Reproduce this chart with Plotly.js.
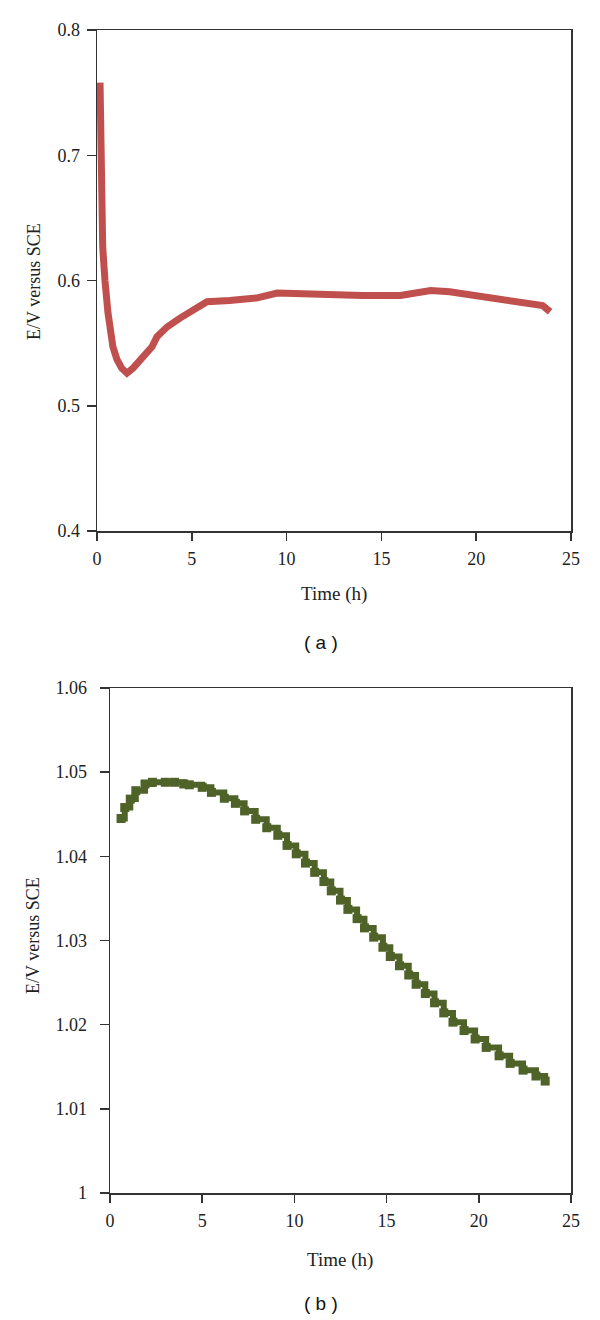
<!DOCTYPE html>
<html>
<head>
<meta charset="utf-8">
<script src="https://cdn.plot.ly/plotly-3.0.1.min.js"></script>
<style>
  body { margin: 0; background: #fff; }
  #plot { width: 600px; height: 1320px; }
</style>
</head>
<body>
<div id="plot"></div>
<script>
// (a) potential vs time, red curve
var timeA = [0.16, 0.2, 0.3, 0.42, 0.58, 0.84, 1.05, 1.3, 1.58, 1.9, 2.37, 2.9, 3.16, 3.7, 4.38, 5.27, 5.8, 7.0, 8.1, 8.4, 9.5, 11, 12.5, 14, 16, 16.8, 17.6, 18.6, 19.5, 20.4, 21.3, 22.2, 23, 23.5, 23.9];
var potA  = [0.758, 0.699, 0.627, 0.600, 0.574, 0.547, 0.537, 0.530, 0.526, 0.530, 0.539, 0.547, 0.555, 0.563, 0.570, 0.579, 0.583, 0.584, 0.585, 0.586, 0.590, 0.589, 0.588, 0.588, 0.588, 0.590, 0.592, 0.591, 0.589, 0.587, 0.585, 0.584, 0.582, 0.580, 0.575];

// (b) potential vs time, green steps
var timeB = [0.6, 0.8, 1.1, 1.4, 1.9, 2.3, 3.0, 3.5, 4.0, 4.3, 5.0, 5.5, 6.2, 6.8, 7.3, 7.9, 8.5, 9.1, 9.6, 10.1, 10.6, 11.1, 11.6, 12.0, 12.5, 12.9, 13.4, 13.8, 14.3, 14.8, 15.2, 15.7, 16.2, 16.6, 17.1, 17.6, 18.1, 18.6, 19.2, 19.8, 20.4, 21.1, 21.7, 22.4, 23.1, 23.6];
var potB  = [1.0445, 1.0458, 1.0468, 1.0478, 1.0486, 1.0488, 1.0488, 1.0488, 1.0486, 1.0485, 1.0482, 1.0476, 1.0469, 1.0463, 1.0454, 1.0444, 1.0434, 1.0425, 1.0413, 1.0403, 1.0392, 1.0381, 1.0370, 1.0359, 1.0348, 1.0337, 1.0326, 1.0315, 1.0304, 1.0292, 1.0281, 1.0270, 1.0259, 1.0248, 1.0237, 1.0226, 1.0214, 1.0203, 1.0193, 1.0183, 1.0173, 1.0163, 1.0154, 1.0146, 1.0139, 1.0133];

var xTicks = [0, 5, 10, 15, 20, 25];
var yTicksA = [0.4, 0.5, 0.6, 0.7, 0.8];
var yTicksB = [1, 1.01, 1.02, 1.03, 1.04, 1.05, 1.06];
var yLabelsB = ["1", "1.01", "1.02", "1.03", "1.04", "1.05", "1.06"];

var serif = "Liberation Serif, DejaVu Serif, serif";
var axisColor = "#333";

var trace1 = {
  x: timeA,
  y: potA,
  mode: "lines",
  line: {color: "rgb(192,80,77)", width: 7},
  xaxis: "x",
  yaxis: "y",
  type: "scatter"
};

var trace2 = {
  x: timeB,
  y: potB,
  mode: "lines+markers",
  line: {color: "rgb(79,98,40)", width: 6, shape: "hv"},
  marker: {symbol: "square", size: 9, color: "rgb(79,98,40)"},
  xaxis: "x2",
  yaxis: "y2",
  type: "scatter"
};

var data = [trace1, trace2];

function xAxis(dom, anchor) {
  return {
    domain: dom, anchor: anchor,
    range: [0, 25], tickvals: xTicks,
    showgrid: false, zeroline: false,
    showline: true, mirror: true, linecolor: axisColor, linewidth: 1.5,
    ticks: "outside", ticklen: 8, tickcolor: axisColor, tickwidth: 1.5,
    ticklabelstandoff: 3,
    tickfont: {family: serif, size: 18, color: "#222"}
  };
}

function yAxis(dom, anchor, range, vals, text, gap) {
  return {
    domain: dom, anchor: anchor,
    range: range, tickvals: vals, ticktext: text,
    showgrid: false, zeroline: false,
    showline: true, mirror: true, linecolor: axisColor, linewidth: 1.5,
    ticks: "outside", ticklen: 9, tickcolor: axisColor, tickwidth: 1.5,
    ticklabelstandoff: gap,
    tickfont: {family: serif, size: 18, color: "#222"}
  };
}

// pixel row -> paper y (plot area runs from 30 to 1193)
function py(row) { return (1193 - row) / 1163; }

var layout = {
  width: 600,
  height: 1320,
  paper_bgcolor: "#fff",
  plot_bgcolor: "#fff",
  showlegend: false,
  margin: {l: 0, r: 29, t: 30, b: 127},
  xaxis: xAxis([97 / 571, 1], "y"),
  yaxis: yAxis([0.5692, 1], "x", [0.4, 0.8], yTicksA, yTicksA.map(String), 3),
  xaxis2: xAxis([110 / 571, 1], "y2"),
  yaxis2: yAxis([0, 0.4342], "x2", [1, 1.06], yTicksB, yLabelsB, 9),
  annotations: [
    {text: "E/V versus SCE", xref: "paper", yref: "paper", x: 34 / 571, y: py(282),
     textangle: -90, showarrow: false, xanchor: "center", yanchor: "middle",
     font: {family: serif, size: 18, color: "#222"}},
    {text: "Time (h)", xref: "paper", yref: "paper", x: 334 / 571, y: py(594),
     showarrow: false, xanchor: "center", yanchor: "middle",
     font: {family: serif, size: 19, color: "#222"}},
    {text: "( a )", xref: "paper", yref: "paper", x: 321 / 571, y: py(642),
     showarrow: false, xanchor: "center", yanchor: "middle",
     font: {family: "Liberation Sans, Arial, sans-serif", size: 19, color: "#111"}},
    {text: "E/V versus SCE", xref: "paper", yref: "paper", x: 33 / 571, y: py(936),
     textangle: -90, showarrow: false, xanchor: "center", yanchor: "middle",
     font: {family: serif, size: 18, color: "#222"}},
    {text: "Time (h)", xref: "paper", yref: "paper", x: 340 / 571, y: py(1260),
     showarrow: false, xanchor: "center", yanchor: "middle",
     font: {family: serif, size: 19, color: "#222"}},
    {text: "( b )", xref: "paper", yref: "paper", x: 321 / 571, y: py(1303),
     showarrow: false, xanchor: "center", yanchor: "middle",
     font: {family: "Liberation Sans, Arial, sans-serif", size: 19, color: "#111"}}
  ]
};

Plotly.newPlot("plot", data, layout, {staticPlot: true});
</script>
</body>
</html>
